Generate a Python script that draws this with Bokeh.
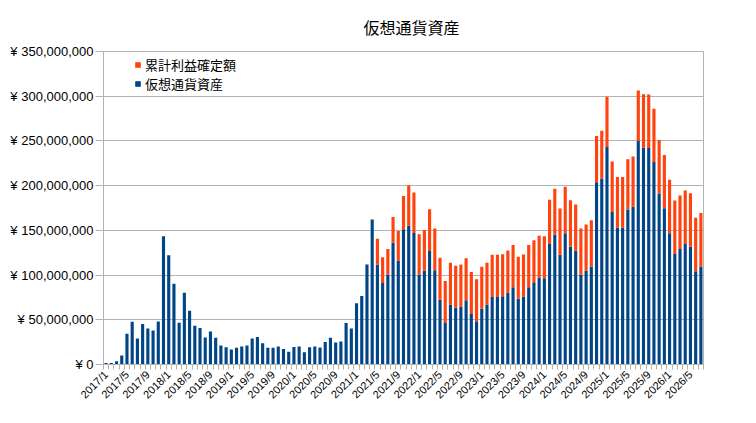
from bokeh.plotting import figure
from bokeh.models import Range1d, FixedTicker, Legend, LegendItem, ColumnDataSource
from bokeh.embed import file_html
from bokeh.resources import INLINE
import math

# ---- data (values in millions of yen) ----
start_year = 2017
n_months = 115  # 2017/1 .. 2026/7
months = [f"{start_year + i // 12}/{i % 12 + 1}" for i in range(n_months)]

asset_m = [
    1.8, 1.8, 3.6, 10.2, 34.3, 47.8, 29.2, 45.3, 40.2, 38.0, 48.2, 143.4,
    122.3, 90.2, 46.7, 80.3, 60.2, 43.4, 40.9, 30.3, 36.9, 29.9, 21.2, 19.3,
    16.8, 18.6, 20.1, 21.2, 29.2, 30.7, 23.7, 18.6, 18.6, 20.1, 17.2, 14.2,
    19.7, 20.1, 13.7, 19.3, 20.1, 19.0, 25.2, 29.9, 24.5, 25.6, 46.4, 40.2,
    68.6, 76.7, 111.7, 162.1, 111.7, 91.1, 100.4, 136.2, 116.3, 151.1, 155.2, 147.0,
    100.4, 105.2, 127.0, 105.4, 72.5, 46.4, 66.8, 63.5, 64.8, 71.9, 56.4, 48.4,
    62.4, 66.8, 75.6, 75.6, 76.3, 80.5, 86.5, 73.4, 75.9, 86.5, 92.0, 96.9,
    96.4, 134.7, 145.5, 122.6, 146.9, 131.8, 127.2, 100.4, 104.8, 109.5, 203.7, 207.9,
    243.1, 170.6, 153.3, 153.3, 173.2, 176.3, 250.0, 242.4, 242.0, 226.3, 191.3, 174.6,
    146.7, 123.7, 129.2, 134.8, 131.6, 104.2, 109.5,
]

profit_m = [
    0, 0, 0, 0, 0, 0, 0, 0, 0, 0, 0, 0,
    0, 0, 0, 0, 0, 0, 0, 0, 0, 0, 0, 0,
    0, 0, 0, 0, 0, 0, 0, 0, 0, 0, 0, 0,
    0, 0, 0, 0, 0, 0, 0, 0, 0, 0, 0, 0,
    0, 0, 0, 0, 28.8, 28.8, 28.8, 28.8, 32.9, 37.3, 45.2, 45.3,
    45.3, 45.3, 46.6, 46.6, 47.0, 47.0, 47.0, 47.0, 47.0, 47.0, 47.0, 47.0,
    47.0, 47.0, 47.0, 47.0, 47.0, 47.0, 47.0, 47.0, 47.0, 47.0, 47.0, 47.0,
    47.0, 49.6, 51.1, 51.8, 51.8, 51.8, 51.8, 51.8, 51.8, 51.8, 51.8, 53.4,
    56.4, 56.4, 56.4, 56.4, 56.4, 56.4, 56.4, 59.8, 59.8, 59.8, 59.8, 59.8,
    59.8, 59.8, 59.8, 59.8, 59.8, 59.8, 59.8,
]

series_names = ["仮想通貨資産", "累計利益確定額"]
series_colors = ["#004586", "#ff420e"]
title_text = "仮想通貨資産"

y_ticks = [0, 50000000, 100000000, 150000000, 200000000, 250000000, 300000000, 350000000]
y_tick_labels = ["¥ 0", "¥ 50,000,000", "¥ 100,000,000", "¥ 150,000,000",
                 "¥ 200,000,000", "¥ 250,000,000", "¥ 300,000,000", "¥ 350,000,000"]
x_label_step = 4

# ---- build ----
idx = list(range(n_months))
source = ColumnDataSource(dict(
    x=idx,
    month=months,
    asset=[v * 1e6 for v in asset_m],
    profit=[v * 1e6 for v in profit_m],
))

p = figure(width=740, height=407,
           x_range=Range1d(-0.5, n_months - 0.5), y_range=Range1d(0, 350000000),
           output_backend="svg", toolbar_location=None,
           min_border_left=103, min_border_right=37,
           min_border_top=51, min_border_bottom=41)

renderers = p.vbar_stack(["asset", "profit"], x="x", width=0.6,
                         color=series_colors, line_color=None, source=source)

p.title.text = title_text
p.title.align = "left"
p.title.offset = 260
p.title.vertical_align = "top"
p.title.text_font = "Noto Sans CJK JP"
p.title.text_font_size = "16px"
p.title.text_font_style = "normal"
p.title.text_color = "#000000"
p.title.standoff = 22

p.background_fill_color = "white"
p.border_fill_color = "white"
p.outline_line_color = "#b3b3b3"

p.xgrid.grid_line_color = None
p.ygrid.grid_line_color = "#b3b3b3"
p.ygrid.grid_line_width = 1

p.yaxis.ticker = FixedTicker(ticks=y_ticks)
p.yaxis.major_label_overrides = dict(zip(y_ticks, y_tick_labels))
p.yaxis.minor_tick_line_color = None
p.yaxis.major_tick_out = 8
p.yaxis.major_tick_in = 0
p.yaxis.major_label_standoff = 2
p.yaxis.axis_line_color = "#b3b3b3"
p.yaxis.major_tick_line_color = "#b3b3b3"
p.yaxis.major_label_text_font = "Liberation Sans"
p.yaxis.major_label_text_font_size = "13px"
p.yaxis.major_label_text_color = "#000000"

x_major = idx[::x_label_step]
p.xaxis.ticker = FixedTicker(ticks=x_major, minor_ticks=[i - 0.5 for i in idx] + [n_months - 0.5])
p.xaxis.major_label_overrides = {i: months[i] for i in x_major}
p.xaxis.major_label_orientation = math.pi / 4
p.xaxis.major_tick_out = 5
p.xaxis.major_tick_in = 0
p.xaxis.major_tick_line_color = None
p.xaxis.minor_tick_out = 5
p.xaxis.minor_tick_in = 0
p.xaxis.minor_tick_line_color = "#b3b3b3"
p.xaxis.major_label_standoff = 3
p.xaxis.axis_line_color = "#b3b3b3"
p.xaxis.major_label_text_font = "Liberation Sans"
p.xaxis.major_label_text_font_size = "11px"
p.xaxis.major_label_text_color = "#000000"

legend = Legend(items=[
    LegendItem(label=series_names[1], renderers=[renderers[1]]),
    LegendItem(label=series_names[0], renderers=[renderers[0]]),
], location=(31, 271))
legend.padding = 0
legend.margin = 0
legend.spacing = 0
legend.border_line_color = None
legend.background_fill_alpha = 0
legend.glyph_width = 7
legend.glyph_height = 7
legend.label_height = 19
legend.label_standoff = 4
legend.label_text_font = "Noto Sans CJK JP"
legend.label_text_font_size = "13px"
legend.label_text_color = "#000000"
p.add_layout(legend)

open("out.html", "w").write(file_html(p, INLINE))
